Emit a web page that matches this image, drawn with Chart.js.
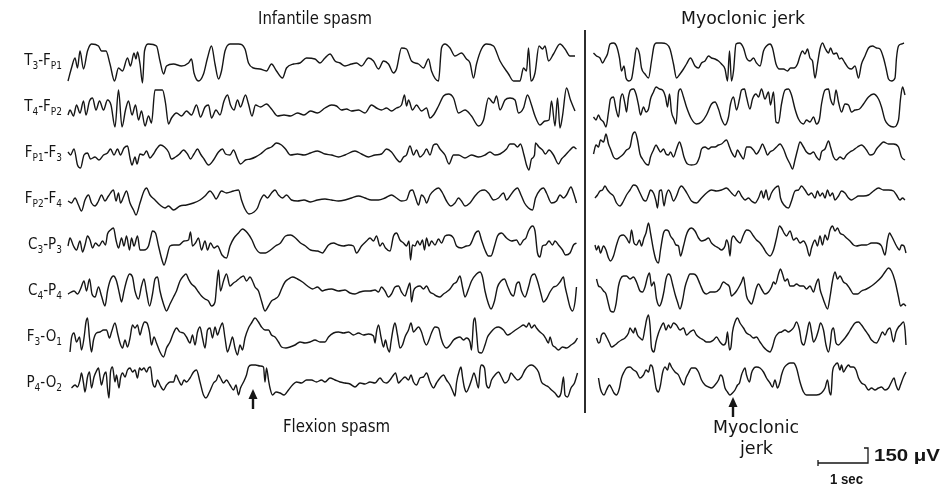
<!DOCTYPE html>
<html>
<head>
<meta charset="utf-8">
<script src="https://cdn.jsdelivr.net/npm/chart.js@4/dist/chart.umd.min.js"></script>
<style>
  html, body { margin: 0; padding: 0; background: #fff; }
  #wrap { position: relative; width: 944px; height: 489px; overflow: hidden; background: #fff; }
  #eeg { position: absolute; left: 0; top: 0; }
  .txt { position: absolute; font-family: "Liberation Sans Narrow", "DejaVu Sans Condensed", "Liberation Sans", sans-serif; color: #151515; white-space: nowrap; line-height: 1; transform-origin: left center; }
  .chan { font-size: 15px; transform-origin: right center; }
  .chan sub { font-size: 10px; vertical-align: -4px; line-height: 0; }
  .bold { font-family: "Liberation Sans", Arial, sans-serif; font-weight: bold; }
</style>
</head>
<body>
<div id="wrap">
  <canvas id="eeg" width="944" height="489"></canvas>
  <div class="txt" data-w="114" style="left:258px; top:9px; font-size:18px;">Infantile spasm</div>
  <div class="txt" data-w="124" style="left:681px; top:9px; font-size:18px;">Myoclonic jerk</div>
  <div class="txt" data-w="107" style="left:283px; top:417px; font-size:18px;">Flexion spasm</div>
  <div class="txt" data-w="86" style="left:713px; top:418px; font-size:18px;">Myoclonic</div>
  <div class="txt" data-w="33" style="left:740px; top:439px; font-size:18px;">jerk</div>
  <div class="txt bold" data-w="66" style="left:874px; top:448px; font-size:16px;">150 &mu;V</div>
  <div class="txt bold" data-w="33" style="left:830px; top:472px; font-size:14px;">1 sec</div>
</div>
<script>
// channel names (montage), top to bottom
const channels = [
  'T<sub>3</sub>-F<sub>P1</sub>', 'T<sub>4</sub>-F<sub>P2</sub>',
  'F<sub>P1</sub>-F<sub>3</sub>', 'F<sub>P2</sub>-F<sub>4</sub>',
  'C<sub>3</sub>-P<sub>3</sub>', 'C<sub>4</sub>-P<sub>4</sub>',
  'F<sub>3</sub>-O<sub>1</sub>', 'P<sub>4</sub>-O<sub>2</sub>'
];

// Infantile spasm panel: [seconds, microvolts]
const spasmT3Fp1 = [[0.00,-190],[0.07,-60],[0.14,40],[0.19,-60],[0.24,110],[0.31,-70],[0.39,110],[0.47,180],[0.61,160],[0.67,110],[0.76,110],[0.84,-20],[0.93,-190],[1.01,-60],[1.09,-90],[1.19,40],[1.25,-40],[1.32,90],[1.36,30],[1.39,100],[1.44,-20],[1.49,-210],[1.53,110],[1.61,180],[1.77,160],[1.84,10],[1.91,-120],[1.97,-40],[2.11,-20],[2.27,-40],[2.41,-10],[2.47,30],[2.52,-110],[2.61,-190],[2.71,-120],[2.79,40],[2.87,160],[2.94,-20],[3.01,-170],[3.07,-90],[3.14,110],[3.24,180],[3.41,180],[3.54,130],[3.61,-10],[3.71,-60],[3.84,-70],[3.97,-90],[4.07,-20],[4.17,-90],[4.29,-160],[4.37,-60],[4.51,-20],[4.64,-10],[4.77,40],[4.94,30],[5.04,-10],[5.14,40],[5.24,80],[5.34,10],[5.44,-10],[5.54,-40],[5.67,-20],[5.77,-10],[5.87,-40],[6.01,40],[6.11,10],[6.21,-70],[6.31,10],[6.41,-20],[6.51,-110],[6.57,-70],[6.67,140],[6.77,130],[6.87,10],[7.01,-20],[7.11,-60],[7.21,30],[7.27,-90],[7.41,-190],[7.47,140],[7.54,180],[7.64,140],[7.74,60],[7.87,90],[7.97,30],[8.04,-10],[8.11,-160],[8.17,-20],[8.27,130],[8.37,180],[8.51,160],[8.64,10],[8.81,-120],[8.91,-190],[9.04,-190],[9.11,-60],[9.17,-90],[9.21,140],[9.26,-190],[9.34,-110],[9.42,160],[9.49,130],[9.54,160],[9.61,10],[9.71,80],[9.84,180],[9.94,130],[10.04,60],[10.14,60]];
const spasmT4Fp2 = [[0.00,-70],[0.04,-20],[0.11,-80],[0.17,30],[0.24,-50],[0.31,70],[0.36,-70],[0.43,70],[0.49,100],[0.56,-20],[0.63,70],[0.71,-20],[0.79,80],[0.86,30],[0.94,-190],[1.01,180],[1.08,-190],[1.15,-20],[1.21,70],[1.28,-70],[1.35,30],[1.41,-120],[1.47,-30],[1.54,-180],[1.61,-80],[1.67,-150],[1.74,180],[1.89,180],[1.95,50],[2.01,-160],[2.07,-100],[2.17,-50],[2.27,-80],[2.37,-30],[2.47,-70],[2.57,30],[2.65,-90],[2.74,10],[2.81,30],[2.87,-100],[2.96,-20],[3.04,-70],[3.12,70],[3.19,130],[3.25,30],[3.32,-20],[3.39,80],[3.45,10],[3.55,130],[3.61,40],[3.68,-80],[3.75,30],[3.85,10],[3.97,40],[4.07,-10],[4.19,-80],[4.32,-70],[4.45,-80],[4.59,-50],[4.72,-70],[4.85,-30],[4.99,-50],[5.14,0],[5.27,30],[5.37,20],[5.47,-20],[5.57,-10],[5.67,-30],[5.81,-20],[5.94,-50],[6.07,30],[6.17,0],[6.27,-20],[6.37,0],[6.47,-30],[6.57,0],[6.67,30],[6.73,130],[6.77,20],[6.81,80],[6.89,-20],[6.97,30],[7.07,-30],[7.17,0],[7.24,-100],[7.31,-70],[7.41,20],[7.51,120],[7.61,140],[7.71,100],[7.81,-50],[7.94,-20],[8.07,-80],[8.21,-180],[8.31,-120],[8.41,100],[8.51,50],[8.57,120],[8.64,-20],[8.74,80],[8.84,100],[8.94,80],[9.01,-50],[9.11,0],[9.19,130],[9.27,30],[9.34,-80],[9.44,-170],[9.54,-130],[9.62,-120],[9.67,70],[9.74,-180],[9.79,100],[9.84,-200],[9.89,-80],[9.97,200],[10.05,80],[10.14,-30]];
const spasmFp1F3 = [[0.00,20],[0.05,-10],[0.12,50],[0.19,-110],[0.25,-140],[0.32,-10],[0.39,10],[0.45,-50],[0.54,-30],[0.62,-60],[0.71,-10],[0.79,10],[0.85,50],[0.92,-10],[0.99,50],[1.05,-10],[1.12,60],[1.19,80],[1.24,-40],[1.28,-110],[1.34,-30],[1.38,-100],[1.44,0],[1.51,-10],[1.57,30],[1.64,-40],[1.71,0],[1.77,50],[1.85,90],[1.93,70],[2.01,20],[2.07,-50],[2.15,-30],[2.23,0],[2.31,40],[2.39,0],[2.45,-50],[2.52,0],[2.59,50],[2.65,0],[2.72,-50],[2.81,-110],[2.91,-60],[3.01,20],[3.09,50],[3.15,0],[3.24,-10],[3.31,40],[3.39,-50],[3.45,-100],[3.55,-60],[3.65,-50],[3.75,-30],[3.85,0],[3.97,50],[4.07,70],[4.17,110],[4.27,90],[4.35,50],[4.45,-10],[4.59,0],[4.72,-10],[4.85,10],[4.99,30],[5.14,0],[5.27,-10],[5.41,-30],[5.54,-10],[5.74,30],[5.87,0],[6.01,-30],[6.14,-10],[6.27,0],[6.37,50],[6.47,20],[6.57,-50],[6.64,-80],[6.71,-30],[6.77,-10],[6.84,80],[6.91,-10],[6.97,40],[7.04,-30],[7.11,0],[7.17,50],[7.24,-10],[7.31,90],[7.37,100],[7.44,50],[7.54,-10],[7.62,-100],[7.71,-10],[7.81,-10],[7.94,-40],[8.07,-10],[8.21,-30],[8.34,-10],[8.44,20],[8.54,-10],[8.64,0],[8.77,50],[8.84,100],[8.92,100],[8.99,70],[9.05,100],[9.12,-10],[9.17,-110],[9.22,-160],[9.27,-50],[9.33,-10],[9.35,110],[9.42,70],[9.49,40],[9.55,0],[9.62,40],[9.71,-10],[9.81,-100],[9.87,-50],[9.95,-10],[10.04,40],[10.11,70],[10.17,50]];
const spasmFp2F4 = [[0.00,-10],[0.07,-30],[0.14,20],[0.21,-50],[0.27,-110],[0.34,0],[0.41,50],[0.47,-30],[0.54,-60],[0.61,-10],[0.67,50],[0.74,-10],[0.81,40],[0.91,100],[0.96,-10],[1.01,70],[1.05,-30],[1.11,30],[1.17,90],[1.24,-30],[1.31,-100],[1.36,-150],[1.44,-30],[1.52,90],[1.57,120],[1.64,50],[1.74,0],[1.84,-50],[1.94,-80],[2.01,-60],[2.11,-100],[2.24,-60],[2.37,-50],[2.51,-30],[2.64,0],[2.74,40],[2.84,90],[2.91,50],[2.96,10],[3.07,90],[3.17,70],[3.31,90],[3.41,100],[3.47,0],[3.54,-90],[3.62,-140],[3.72,-120],[3.79,-80],[3.85,0],[3.92,50],[3.99,20],[4.07,70],[4.14,100],[4.21,50],[4.29,20],[4.37,50],[4.47,0],[4.59,-10],[4.72,0],[4.85,-20],[4.99,0],[5.14,10],[5.27,0],[5.41,-10],[5.54,0],[5.67,20],[5.81,40],[5.94,20],[6.07,0],[6.21,0],[6.34,20],[6.47,50],[6.57,20],[6.67,-10],[6.77,0],[6.84,90],[6.89,100],[6.94,40],[7.01,-50],[7.07,50],[7.13,20],[7.17,-30],[7.24,50],[7.33,100],[7.41,120],[7.49,70],[7.57,-10],[7.66,-60],[7.74,-30],[7.81,20],[7.87,-10],[7.94,-60],[8.04,-30],[8.14,40],[8.24,90],[8.33,100],[8.41,70],[8.51,0],[8.61,20],[8.71,70],[8.77,0],[8.84,40],[8.93,100],[8.99,120],[9.06,50],[9.13,-30],[9.21,-80],[9.29,-100],[9.35,20],[9.44,100],[9.51,120],[9.57,70],[9.67,-30],[9.77,-10],[9.84,50],[9.91,20],[9.97,50],[10.06,130],[10.11,70],[10.17,-30]];
const spasmC3P3 = [[0.00,0],[0.04,80],[0.11,0],[0.17,-40],[0.24,50],[0.29,-60],[0.34,10],[0.39,100],[0.44,60],[0.49,-20],[0.55,30],[0.62,0],[0.69,50],[0.75,10],[0.79,120],[0.85,160],[0.91,180],[0.96,60],[1.01,-20],[1.07,80],[1.12,0],[1.17,100],[1.23,-40],[1.27,80],[1.32,0],[1.39,100],[1.44,-40],[1.52,-40],[1.61,0],[1.65,80],[1.69,150],[1.75,130],[1.81,0],[1.88,-140],[1.92,-190],[1.97,-120],[2.04,0],[2.12,10],[2.22,10],[2.32,50],[2.41,60],[2.45,140],[2.49,0],[2.55,30],[2.61,80],[2.67,-40],[2.74,50],[2.79,-40],[2.85,30],[2.92,-20],[2.99,0],[3.08,-90],[3.17,-120],[3.24,0],[3.32,80],[3.41,130],[3.49,170],[3.59,130],[3.68,60],[3.75,-20],[3.85,-70],[3.95,-70],[4.05,-40],[4.15,0],[4.25,30],[4.35,100],[4.45,110],[4.55,80],[4.65,30],[4.75,0],[4.85,-40],[4.99,-50],[5.09,-70],[5.14,-40],[5.21,10],[5.31,30],[5.41,10],[5.51,0],[5.61,10],[5.71,0],[5.77,-70],[5.87,0],[5.97,50],[6.04,80],[6.11,50],[6.17,100],[6.24,0],[6.29,30],[6.35,-20],[6.44,-50],[6.51,100],[6.57,130],[6.64,60],[6.71,30],[6.77,0],[6.82,50],[6.85,-140],[6.89,10],[6.94,0],[6.99,50],[7.04,10],[7.09,60],[7.13,-40],[7.17,80],[7.22,0],[7.27,50],[7.34,10],[7.41,70],[7.47,30],[7.54,100],[7.62,110],[7.71,80],[7.77,0],[7.87,-20],[7.97,0],[8.04,10],[8.09,60],[8.15,130],[8.21,150],[8.27,60],[8.34,-40],[8.41,-100],[8.46,-100],[8.53,0],[8.59,100],[8.67,130],[8.77,80],[8.87,50],[8.97,60],[9.04,10],[9.11,60],[9.16,80],[9.21,150],[9.29,200],[9.34,150],[9.39,-70],[9.44,-110],[9.49,0],[9.55,10],[9.62,50],[9.69,10],[9.74,50],[9.81,10],[9.89,-40],[9.95,-90],[10.04,-70],[10.11,10],[10.17,30]];
const spasmC4P4 = [[0.00,-20],[0.12,10],[0.19,-20],[0.25,30],[0.32,110],[0.37,10],[0.43,130],[0.48,-20],[0.54,-50],[0.61,50],[0.67,-40],[0.74,-140],[0.79,10],[0.84,110],[0.91,160],[0.97,110],[1.03,-20],[1.07,-100],[1.12,10],[1.17,110],[1.23,180],[1.29,150],[1.34,10],[1.41,-70],[1.47,60],[1.52,130],[1.57,0],[1.63,-140],[1.69,-20],[1.74,130],[1.79,150],[1.84,10],[1.91,-120],[1.97,-190],[2.04,-120],[2.11,-50],[2.17,10],[2.24,110],[2.31,160],[2.36,180],[2.41,130],[2.47,80],[2.54,50],[2.61,0],[2.67,-40],[2.74,-70],[2.81,-90],[2.87,-140],[2.94,-100],[2.97,50],[3.01,220],[3.05,10],[3.11,110],[3.17,180],[3.24,60],[3.31,90],[3.37,110],[3.44,140],[3.51,160],[3.57,110],[3.64,150],[3.69,110],[3.74,50],[3.81,10],[3.87,-90],[3.94,-190],[4.01,-140],[4.07,-90],[4.14,-70],[4.21,-40],[4.27,30],[4.34,100],[4.41,130],[4.49,150],[4.59,130],[4.69,100],[4.79,60],[4.89,30],[4.99,50],[5.09,10],[5.14,20],[5.27,30],[5.41,10],[5.54,20],[5.64,-10],[5.74,-20],[5.84,0],[5.94,10],[6.04,10],[6.14,20],[6.21,0],[6.27,50],[6.34,10],[6.41,-50],[6.47,-20],[6.54,50],[6.61,60],[6.67,0],[6.74,-40],[6.79,30],[6.84,90],[6.87,-100],[6.91,10],[6.97,50],[7.04,60],[7.11,30],[7.17,60],[7.24,0],[7.31,-20],[7.37,-40],[7.44,-50],[7.51,-20],[7.57,0],[7.64,30],[7.71,80],[7.77,100],[7.84,160],[7.89,50],[7.94,-50],[8.01,30],[8.07,110],[8.17,180],[8.24,200],[8.29,150],[8.34,10],[8.41,-120],[8.46,-170],[8.53,-90],[8.59,50],[8.66,110],[8.73,130],[8.79,60],[8.86,-20],[8.91,-40],[8.97,80],[9.02,100],[9.07,10],[9.14,-50],[9.21,50],[9.27,160],[9.33,180],[9.39,110],[9.46,-20],[9.51,-100],[9.57,-70],[9.64,0],[9.71,50],[9.77,60],[9.84,100],[9.91,150],[9.94,60],[9.99,-50],[10.04,-150],[10.09,-190],[10.14,-100],[10.17,50]];
const spasmF3O1 = [[0.04,-140],[0.07,0],[0.12,50],[0.17,-40],[0.23,10],[0.27,-120],[0.32,0],[0.36,160],[0.39,200],[0.43,0],[0.47,-140],[0.51,-20],[0.57,50],[0.64,60],[0.71,80],[0.77,80],[0.83,0],[0.87,60],[0.94,150],[0.99,50],[1.04,-50],[1.09,-100],[1.14,-20],[1.19,-90],[1.24,0],[1.29,130],[1.34,100],[1.39,130],[1.44,30],[1.48,100],[1.53,160],[1.58,150],[1.63,60],[1.67,-70],[1.72,10],[1.77,-50],[1.84,-140],[1.91,-190],[1.97,-100],[2.04,-40],[2.11,50],[2.17,100],[2.24,60],[2.31,50],[2.37,10],[2.44,-50],[2.49,30],[2.54,-70],[2.59,60],[2.64,110],[2.69,0],[2.74,-100],[2.79,80],[2.84,100],[2.89,0],[2.94,110],[2.99,30],[3.04,100],[3.09,150],[3.14,0],[3.19,-140],[3.24,-70],[3.29,10],[3.34,-100],[3.39,-170],[3.44,-70],[3.49,-120],[3.54,0],[3.61,100],[3.67,150],[3.74,200],[3.81,160],[3.87,110],[3.94,80],[4.01,80],[4.07,30],[4.14,10],[4.21,-40],[4.27,-90],[4.36,-100],[4.44,-90],[4.54,-70],[4.64,-40],[4.74,-50],[4.84,-40],[4.94,-20],[5.04,-40],[5.14,-40],[5.21,10],[5.31,50],[5.41,60],[5.51,50],[5.61,60],[5.71,30],[5.81,50],[5.91,30],[6.01,40],[6.11,20],[6.14,-50],[6.17,60],[6.21,130],[6.26,10],[6.31,-90],[6.35,-20],[6.39,-100],[6.43,-140],[6.46,-40],[6.51,110],[6.54,150],[6.59,30],[6.64,-100],[6.69,-70],[6.74,10],[6.81,80],[6.86,150],[6.91,60],[6.95,80],[7.01,110],[7.07,60],[7.13,-40],[7.17,-70],[7.22,-20],[7.27,50],[7.34,110],[7.41,100],[7.46,0],[7.51,-70],[7.57,-100],[7.64,-70],[7.71,-20],[7.77,0],[7.84,10],[7.91,-20],[7.97,0],[8.04,-40],[8.07,-120],[8.11,160],[8.14,200],[8.17,60],[8.21,-140],[8.27,-150],[8.34,-70],[8.39,10],[8.46,60],[8.54,100],[8.61,110],[8.71,80],[8.79,30],[8.87,50],[8.95,80],[9.04,110],[9.11,130],[9.17,110],[9.22,150],[9.27,100],[9.33,130],[9.37,100],[9.44,60],[9.51,30],[9.55,0],[9.61,-50],[9.64,10],[9.69,-70],[9.74,-90],[9.81,-120],[9.89,-90],[9.97,-100],[10.06,-70],[10.14,-40],[10.19,0]];
const spasmP4O2 = [[0.07,-40],[0.14,-10],[0.19,-30],[0.24,40],[0.27,110],[0.31,10],[0.34,-80],[0.39,70],[0.43,120],[0.47,-40],[0.52,70],[0.56,120],[0.61,160],[0.64,70],[0.67,-10],[0.72,90],[0.76,120],[0.79,-40],[0.82,-140],[0.85,120],[0.89,170],[0.94,20],[0.97,90],[1.02,-40],[1.05,60],[1.09,110],[1.14,70],[1.19,140],[1.24,160],[1.29,120],[1.34,140],[1.39,60],[1.43,160],[1.47,140],[1.52,160],[1.57,120],[1.61,160],[1.65,170],[1.69,20],[1.74,-30],[1.79,40],[1.84,-10],[1.91,-60],[1.97,-10],[2.04,20],[2.11,20],[2.16,90],[2.21,40],[2.27,-10],[2.32,40],[2.37,20],[2.44,60],[2.51,120],[2.57,140],[2.64,20],[2.71,-110],[2.76,-140],[2.83,-80],[2.91,10],[2.97,40],[3.01,90],[3.05,60],[3.11,10],[3.17,40],[3.24,-10],[3.31,-60],[3.36,-10],[3.41,-110],[3.45,-40],[3.51,20],[3.57,90],[3.61,170],[3.67,190],[3.75,190],[3.84,180],[3.91,170],[3.94,20],[3.97,160],[4.01,40],[4.04,-40],[4.09,-110],[4.16,-80],[4.24,-90],[4.32,-110],[4.41,-60],[4.49,-10],[4.57,20],[4.67,10],[4.77,40],[4.87,40],[4.97,20],[5.07,40],[5.14,20],[5.24,60],[5.34,40],[5.44,20],[5.54,10],[5.64,0],[5.74,-30],[5.84,10],[5.94,0],[6.04,20],[6.14,10],[6.24,60],[6.31,20],[6.37,10],[6.44,40],[6.51,90],[6.55,110],[6.61,10],[6.67,40],[6.74,70],[6.81,40],[6.86,90],[6.91,20],[6.97,-10],[7.04,60],[7.11,70],[7.17,110],[7.24,20],[7.31,-40],[7.37,10],[7.44,60],[7.51,90],[7.57,40],[7.64,-10],[7.71,-90],[7.74,-120],[7.77,10],[7.83,140],[7.86,170],[7.89,70],[7.93,-40],[7.97,-80],[8.02,-30],[8.07,40],[8.12,110],[8.15,70],[8.21,-40],[8.24,140],[8.27,190],[8.33,160],[8.37,-10],[8.42,-40],[8.47,40],[8.54,90],[8.61,120],[8.67,70],[8.74,10],[8.81,40],[8.86,110],[8.93,70],[8.99,40],[9.07,70],[9.14,140],[9.21,180],[9.27,190],[9.34,170],[9.41,120],[9.47,20],[9.54,-10],[9.61,-30],[9.67,-60],[9.74,-90],[9.81,-130],[9.86,-90],[9.91,70],[9.94,-110],[9.99,-130],[10.06,-40],[10.13,10],[10.19,110]];

// Myoclonic jerk panel: [seconds, microvolts]
const jerkT3Fp1 = [[0.01,90],[0.07,60],[0.14,40],[0.19,-10],[0.24,30],[0.29,80],[0.34,180],[0.41,190],[0.47,160],[0.53,40],[0.57,-90],[0.62,-40],[0.66,-160],[0.72,-190],[0.77,-170],[0.82,-20],[0.87,140],[0.93,80],[0.97,-60],[1.04,-120],[1.11,-160],[1.17,10],[1.22,160],[1.27,190],[1.37,190],[1.47,180],[1.54,130],[1.61,-20],[1.67,-160],[1.74,-120],[1.81,-70],[1.87,-20],[1.95,40],[2.04,-40],[2.11,-60],[2.17,-10],[2.24,10],[2.31,60],[2.37,40],[2.44,30],[2.51,10],[2.57,-20],[2.64,-70],[2.69,-190],[2.73,110],[2.77,-190],[2.81,-90],[2.86,180],[2.93,190],[3.01,140],[3.07,40],[3.14,10],[3.21,40],[3.27,-10],[3.34,-40],[3.41,110],[3.47,160],[3.54,180],[3.59,140],[3.66,-20],[3.73,-70],[3.81,-70],[3.89,-90],[3.95,-60],[4.02,-60],[4.09,-20],[4.14,60],[4.19,110],[4.24,80],[4.29,130],[4.34,40],[4.39,10],[4.44,-160],[4.49,-20],[4.54,130],[4.59,190],[4.64,140],[4.71,90],[4.75,140],[4.81,80],[4.87,90],[4.93,30],[4.97,40],[5.04,-10],[5.11,-60],[5.17,-70],[5.24,-40],[5.31,-160],[5.37,-20],[5.44,60],[5.51,140],[5.59,160],[5.67,140],[5.74,130],[5.81,40],[5.86,-60],[5.91,-170],[5.97,-190],[6.04,-160],[6.07,40],[6.11,160],[6.17,180],[6.22,190]];
const jerkT4Fp2 = [[0.01,-90],[0.06,-120],[0.11,-70],[0.15,-110],[0.21,-140],[0.26,-190],[0.31,-40],[0.35,90],[0.41,110],[0.46,-10],[0.51,-90],[0.55,90],[0.59,140],[0.64,40],[0.67,-40],[0.71,110],[0.75,180],[0.81,190],[0.86,140],[0.91,30],[0.95,-70],[1.01,10],[1.06,-40],[1.11,-10],[1.15,90],[1.21,160],[1.26,210],[1.33,190],[1.39,180],[1.45,110],[1.49,10],[1.53,140],[1.57,-40],[1.62,-110],[1.66,-160],[1.71,160],[1.75,190],[1.81,110],[1.87,10],[1.97,-110],[2.07,-160],[2.17,-140],[2.27,-70],[2.37,40],[2.44,60],[2.51,-10],[2.57,-110],[2.64,-170],[2.71,-90],[2.75,40],[2.81,110],[2.87,-20],[2.93,90],[2.97,180],[3.03,190],[3.07,110],[3.14,-10],[3.19,90],[3.26,140],[3.31,110],[3.37,190],[3.44,90],[3.51,160],[3.55,30],[3.61,160],[3.66,-140],[3.71,-150],[3.77,40],[3.84,180],[3.91,190],[3.97,130],[4.04,-10],[4.11,-110],[4.21,-160],[4.27,-120],[4.34,-140],[4.41,-90],[4.47,-160],[4.53,-110],[4.57,40],[4.64,180],[4.71,190],[4.75,90],[4.81,30],[4.86,180],[4.91,60],[4.97,-40],[5.04,40],[5.11,30],[5.17,-40],[5.24,-20],[5.33,-10],[5.41,40],[5.51,110],[5.61,140],[5.71,90],[5.77,10],[5.84,-120],[5.91,-170],[6.01,-190],[6.11,-120],[6.15,90],[6.19,210],[6.24,130]];
const jerkFp1F3 = [[0.01,0],[0.06,90],[0.11,70],[0.15,140],[0.21,120],[0.26,200],[0.31,100],[0.35,50],[0.41,-30],[0.47,-50],[0.54,-30],[0.61,0],[0.67,40],[0.74,70],[0.79,190],[0.84,220],[0.89,140],[0.94,0],[0.99,-50],[1.06,-100],[1.11,-110],[1.15,-30],[1.21,40],[1.26,90],[1.31,50],[1.35,20],[1.41,50],[1.46,0],[1.51,-10],[1.55,20],[1.61,-30],[1.67,50],[1.73,120],[1.77,70],[1.82,-30],[1.89,-100],[1.97,-110],[2.06,-100],[2.13,-30],[2.17,50],[2.24,70],[2.31,50],[2.37,70],[2.44,70],[2.51,90],[2.57,100],[2.67,140],[2.73,70],[2.77,20],[2.84,-30],[2.89,40],[2.94,0],[3.01,-50],[3.07,70],[3.14,70],[3.21,40],[3.27,0],[3.34,50],[3.39,100],[3.44,50],[3.49,-10],[3.54,20],[3.61,40],[3.67,70],[3.74,100],[3.81,50],[3.87,-30],[3.94,-100],[3.99,-150],[4.04,-60],[4.09,40],[4.14,120],[4.21,70],[4.27,20],[4.34,0],[4.41,20],[4.47,-30],[4.53,-60],[4.57,20],[4.64,50],[4.71,130],[4.75,70],[4.81,-30],[4.87,-60],[4.94,-30],[5.01,-50],[5.07,-10],[5.14,20],[5.21,40],[5.29,70],[5.37,90],[5.47,40],[5.54,-10],[5.61,0],[5.67,50],[5.74,90],[5.81,120],[5.91,100],[6.01,100],[6.11,70],[6.17,-30],[6.24,-60]];
const jerkFp2F4 = [[0.04,20],[0.09,50],[0.14,90],[0.19,100],[0.24,140],[0.29,100],[0.34,70],[0.41,40],[0.47,-30],[0.54,-60],[0.61,-10],[0.67,50],[0.74,100],[0.81,150],[0.87,140],[0.94,70],[1.01,0],[1.06,-10],[1.11,50],[1.15,100],[1.21,70],[1.26,-10],[1.29,-80],[1.33,90],[1.37,100],[1.42,-60],[1.46,40],[1.51,100],[1.55,70],[1.61,-10],[1.67,40],[1.73,120],[1.77,140],[1.84,100],[1.91,40],[1.97,-10],[2.07,-30],[2.17,20],[2.27,70],[2.37,100],[2.47,90],[2.57,100],[2.67,120],[2.77,70],[2.84,40],[2.91,90],[2.97,40],[3.04,0],[3.11,20],[3.17,-10],[3.24,-30],[3.31,20],[3.37,90],[3.41,20],[3.46,100],[3.51,0],[3.57,70],[3.64,120],[3.71,140],[3.75,20],[3.82,-50],[3.91,-80],[3.97,-10],[4.04,90],[4.11,100],[4.17,140],[4.24,100],[4.31,50],[4.37,70],[4.44,20],[4.49,90],[4.54,40],[4.59,70],[4.64,20],[4.69,100],[4.74,40],[4.79,70],[4.84,0],[4.91,40],[4.97,90],[5.04,70],[5.11,20],[5.17,0],[5.24,20],[5.31,40],[5.41,40],[5.51,50],[5.61,90],[5.71,120],[5.81,100],[5.91,100],[6.01,90],[6.07,50],[6.14,0],[6.19,20],[6.24,0]];
const jerkC3P3 = [[0.04,10],[0.07,-40],[0.11,0],[0.15,-70],[0.21,0],[0.26,-40],[0.31,-120],[0.35,-150],[0.41,-100],[0.47,10],[0.54,100],[0.61,110],[0.67,80],[0.73,30],[0.77,160],[0.82,30],[0.87,10],[0.93,60],[0.97,0],[1.02,80],[1.06,130],[1.11,230],[1.15,130],[1.21,-40],[1.26,-140],[1.31,-170],[1.35,-40],[1.41,130],[1.46,160],[1.51,150],[1.55,100],[1.61,60],[1.66,10],[1.71,0],[1.75,-100],[1.81,0],[1.86,100],[1.91,160],[1.97,180],[2.04,150],[2.11,80],[2.17,50],[2.24,60],[2.31,80],[2.37,30],[2.44,0],[2.51,-20],[2.57,-40],[2.64,0],[2.67,60],[2.71,10],[2.74,-100],[2.77,60],[2.81,100],[2.87,60],[2.94,30],[3.01,110],[3.07,160],[3.14,150],[3.21,100],[3.27,60],[3.34,30],[3.41,-20],[3.47,-70],[3.54,-100],[3.61,-40],[3.67,80],[3.73,200],[3.77,180],[3.82,130],[3.87,100],[3.94,150],[4.01,60],[4.07,80],[4.14,30],[4.21,50],[4.27,0],[4.33,-100],[4.37,-20],[4.44,60],[4.49,0],[4.54,100],[4.59,10],[4.64,110],[4.69,60],[4.74,160],[4.79,200],[4.84,150],[4.89,180],[4.94,130],[5.01,110],[5.07,80],[5.14,50],[5.21,10],[5.27,0],[5.37,10],[5.47,10],[5.57,30],[5.67,30],[5.77,0],[5.84,-90],[5.89,60],[5.93,130],[5.97,100],[6.02,50],[6.07,0],[6.13,-40],[6.17,10],[6.22,0],[6.26,-70]];
const jerkC4P4 = [[0.07,130],[0.11,60],[0.15,50],[0.21,10],[0.26,-20],[0.31,-120],[0.35,-190],[0.41,-200],[0.46,-120],[0.51,60],[0.55,130],[0.61,160],[0.67,160],[0.74,130],[0.81,150],[0.87,100],[0.94,10],[0.99,0],[1.04,50],[1.09,150],[1.13,190],[1.17,60],[1.22,100],[1.27,-70],[1.33,-140],[1.37,-100],[1.42,10],[1.46,130],[1.51,180],[1.55,160],[1.59,80],[1.64,-20],[1.69,-100],[1.74,-170],[1.79,-90],[1.84,50],[1.89,130],[1.94,180],[2.01,180],[2.07,160],[2.14,80],[2.21,0],[2.27,-20],[2.35,0],[2.44,0],[2.53,30],[2.61,100],[2.67,80],[2.73,50],[2.77,-40],[2.82,-20],[2.87,10],[2.93,60],[2.97,100],[3.01,150],[3.04,60],[3.07,-40],[3.13,-100],[3.17,-120],[3.22,-50],[3.26,30],[3.31,80],[3.37,30],[3.44,-20],[3.51,0],[3.57,50],[3.61,100],[3.65,80],[3.71,180],[3.75,230],[3.79,180],[3.84,110],[3.89,130],[3.94,60],[4.01,60],[4.07,80],[4.14,60],[4.21,60],[4.27,30],[4.34,60],[4.41,0],[4.46,80],[4.51,130],[4.54,30],[4.59,-50],[4.64,-120],[4.69,-170],[4.74,-50],[4.79,110],[4.84,200],[4.89,130],[4.94,160],[5.01,100],[5.07,80],[5.14,30],[5.21,-20],[5.29,-20],[5.37,10],[5.47,30],[5.57,60],[5.67,100],[5.77,150],[5.84,200],[5.91,240],[5.97,210],[6.04,110],[6.11,-50],[6.15,-140],[6.21,-120],[6.26,-140]];
const jerkF3O1 = [[0.07,0],[0.11,-50],[0.14,-40],[0.17,30],[0.22,50],[0.27,10],[0.33,-50],[0.37,-90],[0.44,-70],[0.51,-40],[0.57,-20],[0.64,0],[0.71,50],[0.74,100],[0.77,80],[0.81,50],[0.84,100],[0.89,30],[0.94,0],[0.99,-20],[1.04,100],[1.07,180],[1.11,230],[1.14,130],[1.17,-100],[1.22,-140],[1.26,-40],[1.31,50],[1.35,100],[1.41,150],[1.46,80],[1.51,130],[1.55,100],[1.61,150],[1.67,130],[1.74,80],[1.81,100],[1.87,30],[1.94,60],[2.01,80],[2.07,30],[2.14,0],[2.21,-20],[2.27,-40],[2.34,-40],[2.41,-20],[2.47,10],[2.54,-40],[2.61,-70],[2.66,-40],[2.69,60],[2.73,-120],[2.76,-90],[2.79,60],[2.84,160],[2.89,200],[2.94,150],[3.01,100],[3.07,50],[3.14,30],[3.21,0],[3.27,10],[3.34,-40],[3.41,-90],[3.47,-120],[3.54,-140],[3.59,-90],[3.64,0],[3.71,50],[3.77,60],[3.84,80],[3.91,60],[3.97,80],[4.02,110],[4.07,160],[4.13,80],[4.17,-40],[4.22,-70],[4.27,30],[4.33,160],[4.37,60],[4.41,-40],[4.46,0],[4.51,80],[4.55,150],[4.61,80],[4.66,-70],[4.71,-140],[4.75,-40],[4.77,60],[4.81,100],[4.86,-50],[4.91,-70],[4.97,-40],[5.04,0],[5.11,50],[5.17,100],[5.24,150],[5.31,160],[5.37,130],[5.44,80],[5.51,30],[5.57,-20],[5.67,-50],[5.74,10],[5.79,60],[5.84,30],[5.89,80],[5.94,100],[6.01,-40],[6.06,60],[6.11,110],[6.15,130],[6.21,160],[6.24,80],[6.26,-70]];
const jerkP4O2 = [[0.11,60],[0.14,-30],[0.17,-80],[0.22,-110],[0.27,-60],[0.33,-10],[0.37,-40],[0.42,-90],[0.47,-110],[0.53,-40],[0.57,60],[0.62,120],[0.67,160],[0.74,170],[0.81,140],[0.87,120],[0.94,60],[1.01,90],[1.06,140],[1.11,120],[1.15,190],[1.19,170],[1.22,90],[1.26,-40],[1.31,-80],[1.35,-10],[1.39,110],[1.44,170],[1.49,140],[1.53,210],[1.57,170],[1.64,120],[1.71,90],[1.77,20],[1.82,-10],[1.86,60],[1.91,110],[1.97,160],[2.04,160],[2.11,120],[2.17,40],[2.24,-10],[2.31,-30],[2.37,-40],[2.44,-10],[2.51,40],[2.55,90],[2.59,70],[2.64,-40],[2.69,-80],[2.74,-110],[2.79,-90],[2.84,-60],[2.89,-10],[2.93,10],[2.97,90],[3.01,140],[3.04,160],[3.07,90],[3.13,20],[3.17,110],[3.22,160],[3.27,170],[3.34,160],[3.41,120],[3.47,60],[3.54,10],[3.59,-30],[3.64,40],[3.69,-40],[3.74,20],[3.77,90],[3.82,160],[3.87,190],[3.94,210],[4.01,210],[4.07,160],[4.14,20],[4.21,-80],[4.27,-110],[4.37,-110],[4.47,-110],[4.57,-90],[4.64,-40],[4.69,40],[4.73,-80],[4.76,-110],[4.79,120],[4.84,190],[4.89,210],[4.94,140],[4.97,190],[5.01,120],[5.06,160],[5.11,190],[5.15,170],[5.21,170],[5.26,140],[5.31,60],[5.37,10],[5.44,-10],[5.51,-60],[5.57,-40],[5.64,-60],[5.71,-40],[5.77,-30],[5.84,-60],[5.91,-40],[5.97,20],[6.02,60],[6.06,-10],[6.11,-60],[6.15,-10],[6.21,70],[6.26,120]];

const spasmTraces = [spasmT3Fp1, spasmT4Fp2, spasmFp1F3, spasmFp2F4, spasmC3P3, spasmC4P4, spasmF3O1, spasmP4O2];
const jerkTraces = [jerkT3Fp1, jerkT4Fp2, jerkFp1F3, jerkFp2F4, jerkC3P3, jerkC4P4, jerkF3O1, jerkP4O2];

// event markers (seconds into each panel)
const flexionSpasmAt = 3.70;
const myoclonicJerkAt = 2.80;

// calibration bar
const calSec = 1;
const calMicroV = 150;

// page layout (pixels)
const PX_PER_SEC = 50, UV_PER_PX = 10;
const LEFT_START = 68, RIGHT_START = 593, DIVIDER_X = 585;
const ROW0 = 62, ROW_GAP = 46;
const INK = '#161616';

const rowCenter = k => ROW0 + k * ROW_GAP;

// build datasets: each channel gets a trace in both panels
const datasets = [];
channels.forEach((ch, k) => {
  [[spasmTraces[k], LEFT_START], [jerkTraces[k], RIGHT_START]].forEach(([trace, startPx]) => {
    datasets.push({
      data: trace.map(([t, uv]) => ({ x: startPx / PX_PER_SEC + t, y: -rowCenter(k) * UV_PER_PX + uv })),
      borderColor: INK,
      borderWidth: 1.4,
      borderJoinStyle: 'round',
      pointRadius: 0,
      cubicInterpolationMode: 'monotone',
      fill: false
    });
  });
});

function arrowUp(ctx, x, tipY) {
  ctx.beginPath();
  ctx.moveTo(x, tipY);
  ctx.lineTo(x - 4.5, tipY + 10);
  ctx.lineTo(x + 4.5, tipY + 10);
  ctx.closePath();
  ctx.fill();
  ctx.fillRect(x - 1.2, tipY + 8, 2.4, 12);
}

const marks = {
  id: 'marks',
  afterDatasetsDraw(chart) {
    const { ctx, scales: { x, y } } = chart;
    ctx.save();
    ctx.strokeStyle = INK;
    ctx.fillStyle = INK;

    // panel divider
    const xd = x.getPixelForValue(DIVIDER_X / PX_PER_SEC);
    ctx.lineWidth = 1.8;
    ctx.beginPath(); ctx.moveTo(xd, 30); ctx.lineTo(xd, 413); ctx.stroke();

    // event arrows under the last channel
    arrowUp(ctx, x.getPixelForValue(LEFT_START / PX_PER_SEC + flexionSpasmAt), 389);
    arrowUp(ctx, x.getPixelForValue(RIGHT_START / PX_PER_SEC + myoclonicJerkAt), 397);

    // calibration bar: 1 sec x 150 uV
    const x0 = x.getPixelForValue(818 / PX_PER_SEC);
    const x1 = x.getPixelForValue(818 / PX_PER_SEC + calSec);
    const yb = 463;
    const ht = Math.abs(y.getPixelForValue(0) - y.getPixelForValue(calMicroV));
    ctx.lineWidth = 1.3;
    ctx.beginPath();
    ctx.moveTo(x0, yb - 3); ctx.lineTo(x0, yb + 3);
    ctx.moveTo(x0, yb); ctx.lineTo(x1, yb); ctx.lineTo(x1, yb - ht); ctx.lineTo(x1 - 4, yb - ht);
    ctx.stroke();
    ctx.restore();
  }
};

new Chart(document.getElementById('eeg'), {
  type: 'line',
  data: { datasets },
  options: {
    responsive: false,
    animation: false,
    devicePixelRatio: 1,
    layout: { padding: 0 },
    events: [],
    scales: {
      x: { type: 'linear', min: 0, max: 944 / PX_PER_SEC, display: false },
      y: { type: 'linear', min: -489 * UV_PER_PX, max: 0, display: false }
    },
    plugins: { legend: { display: false }, tooltip: { enabled: false } }
  },
  plugins: [marks]
});

// channel labels at each row
const wrap = document.getElementById('wrap');
channels.forEach((ch, k) => {
  const el = document.createElement('div');
  el.className = 'txt chan';
  el.innerHTML = ch;
  el.style.right = (944 - 62) + 'px';
  el.style.top = (rowCenter(k) - 9) + 'px';
  wrap.appendChild(el);
});

// squeeze text to the widths seen in the figure
document.querySelectorAll('[data-w]').forEach(el => {
  const w = el.getBoundingClientRect().width;
  el.style.transform = 'scaleX(' + (+el.dataset.w / w).toFixed(3) + ')';
});
</script>
</body>
</html>
